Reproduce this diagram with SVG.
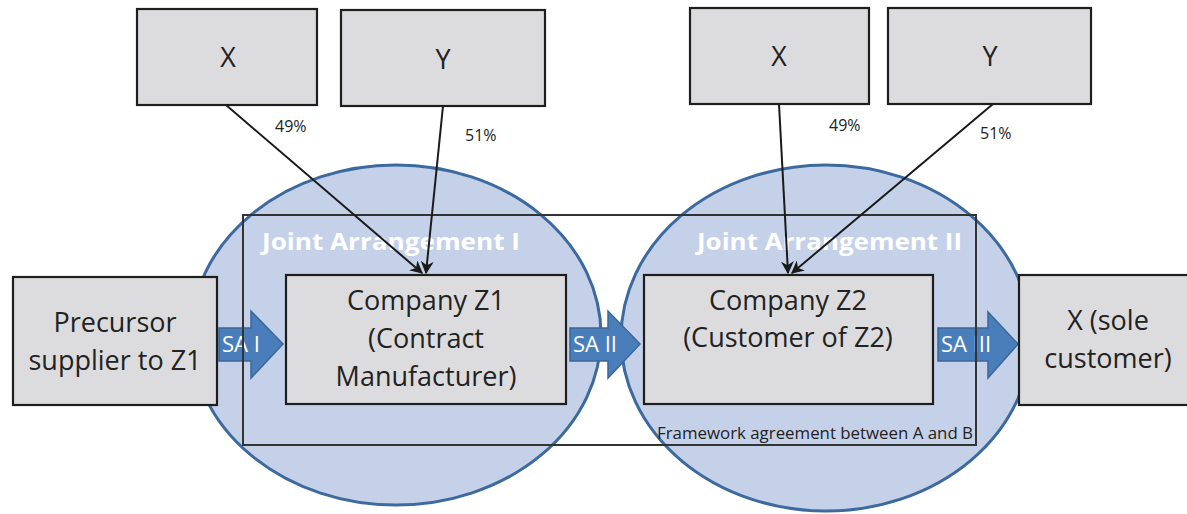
<svg xmlns="http://www.w3.org/2000/svg" width="1187" height="514" viewBox="0 0 1187 514">
<defs>
<style>
.ell{fill:#c5d1e9;stroke:#3d6a9e;stroke-width:3}
.box{fill:#dcdcde;stroke:#1e1e1e;stroke-width:2.2}
.frame{fill:none;stroke:#333;stroke-width:2}
.t{font-family:"Open Sans","Noto Sans",sans-serif;fill:#222;text-anchor:middle}
.big{font-size:27px}
.pct{font-size:16px;font-family:"Open Sans",sans-serif;fill:#222}
.fw{font-size:16px;font-family:"Open Sans",sans-serif;fill:#222}
.ja{font-family:"Open Sans",sans-serif;font-weight:bold;font-size:24px;fill:#fff}
.sa{fill:#4a7ebb;stroke:#3b679a;stroke-width:1.5}
.sat{font-family:"Open Sans",sans-serif;font-size:22px;fill:#fff}
.ln{stroke:#1a1a1a;stroke-width:2;fill:none}
</style>
<marker id="ah" viewBox="0 0 10 10" refX="9" refY="5" markerWidth="6.5" markerHeight="6.5" orient="auto" markerUnits="strokeWidth">
<path d="M0,0 L10,5 L0,10 L3,5 z" fill="#1a1a1a"/>
</marker>
</defs>
<g id="ellipses">
<ellipse id="ja1" class="ell" cx="396" cy="335" rx="205" ry="170"/>
<ellipse id="ja2" class="ell" cx="826" cy="338" rx="205" ry="173"/>
<text class="ja" x="262" y="250" textLength="258" lengthAdjust="spacingAndGlyphs">Joint Arrangement I</text>
<text class="ja" x="697" y="250" textLength="265" lengthAdjust="spacingAndGlyphs">Joint Arrangement II</text>
</g>
<g id="sa-arrows">
<g id="sa1"><path class="sa" d="M219,328 H251 V311 L283,344 L251,378 V361 H219 Z"/><text class="sat" x="222" y="352">SA I</text></g>
<g id="sa2"><path class="sa" d="M570,328 H608 V311 L640,344 L608,378 V361 H570 Z"/><text class="sat" x="573" y="352">SA II</text></g>
<g id="sa3"><path class="sa" d="M938,328 H988 V312 L1018,344 L988,378 V361 H938 Z"/><text class="sat" x="941" y="352">SA III</text></g>
</g>
<g id="framework">
<rect class="frame" x="243" y="215" width="733" height="230"/>
<text class="fw" x="657" y="439" textLength="316" lengthAdjust="spacingAndGlyphs">Framework agreement between A and B</text>
</g>
<g id="x1"><rect class="box" x="137" y="9" width="180" height="96"/><text class="t big" x="228" y="67">X</text></g>
<g id="y1"><rect class="box" x="341" y="10" width="204" height="96"/><text class="t big" x="443" y="69">Y</text></g>
<g id="x2"><rect class="box" x="690" y="8" width="179" height="96"/><text class="t big" x="779" y="66">X</text></g>
<g id="y2"><rect class="box" x="888" y="8" width="203" height="96"/><text class="t big" x="990" y="66">Y</text></g>
<g id="precursor"><rect class="box" x="13" y="277" width="204" height="128"/><text class="t big" x="115" y="332">Precursor</text><text class="t big" x="115" y="370">supplier to Z1</text></g>
<g id="z1"><rect class="box" x="286" y="275" width="280" height="129"/><text class="t big" x="426" y="310">Company Z1</text><text class="t big" x="426" y="348">(Contract</text><text class="t big" x="426" y="386">Manufacturer)</text></g>
<g id="z2"><rect class="box" x="644" y="275" width="289" height="129"/><text class="t big" x="788" y="310">Company Z2</text><text class="t big" x="788" y="347">(Customer of Z2)</text></g>
<g id="xsole"><rect class="box" x="1019" y="275" width="180" height="130"/><text class="t big" x="1108" y="330">X (sole</text><text class="t big" x="1108" y="368">customer)</text></g>
<g id="connectors">
<line class="ln" x1="226" y1="105" x2="422" y2="273" marker-end="url(#ah)"/>
<line class="ln" x1="443" y1="106" x2="426" y2="273" marker-end="url(#ah)"/>
<line class="ln" x1="779" y1="104" x2="788" y2="273" marker-end="url(#ah)"/>
<line class="ln" x1="993" y1="104" x2="792" y2="273" marker-end="url(#ah)"/>
<text class="pct" x="275" y="132">49%</text>
<text class="pct" x="465" y="141">51%</text>
<text class="pct" x="829" y="131">49%</text>
<text class="pct" x="980" y="139">51%</text>
</g>
</svg>
